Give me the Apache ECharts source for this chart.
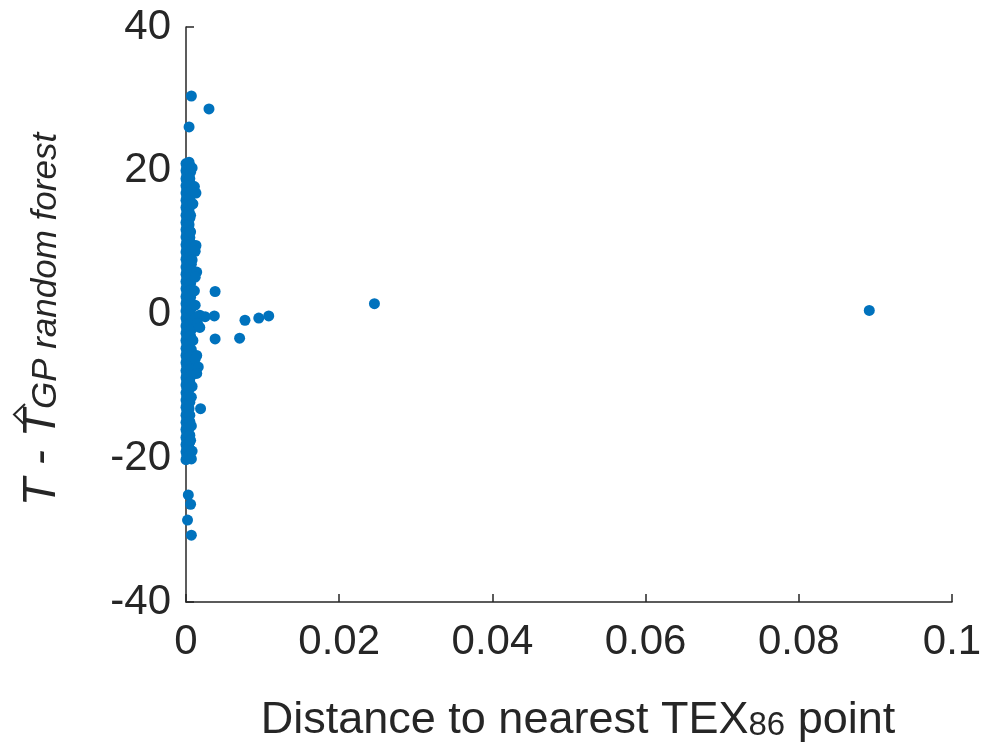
<!DOCTYPE html>
<html>
<head>
<meta charset="utf-8">
<script src="https://cdn.jsdelivr.net/npm/echarts@6/dist/echarts.min.js"></script>
<style>html,body{margin:0;padding:0;background:#fff;}#chart{width:986px;height:749px;}</style>
</head>
<body>
<div id="chart"></div>
<script>
// ---- data: [distance to nearest TEX86 point, residual T - T_hat] ----
const innerColumn = [
  [0.0000,21.0],[0.0001,20.5],[0.0000,20.0],[0.0001,19.4],[0.0000,18.9],[0.0001,18.5],[0.0000,17.9],[0.0001,17.4],
  [0.0000,16.9],[0.0001,16.4],[0.0000,15.9],[0.0001,15.4],[0.0000,14.9],[0.0001,14.4],[0.0000,13.8],[0.0001,13.3],
  [0.0000,12.8],[0.0001,12.3],[0.0000,11.8],[0.0001,11.3],[0.0000,10.8],[0.0001,10.2],[0.0000,9.7],[0.0001,9.2],
  [0.0000,8.7],[0.0001,8.2],[0.0000,7.7],[0.0001,7.2],[0.0000,6.6],[0.0001,6.1],[0.0000,5.6],[0.0001,5.1],
  [0.0000,4.6],[0.0001,4.1],[0.0000,3.6],[0.0001,3.0],[0.0000,2.5],[0.0001,2.0],[0.0000,1.5],[0.0001,1.0],
  [0.0000,0.5],[0.0001,0.0],[0.0000,-0.5],[0.0001,-1.0],[0.0000,-1.6],[0.0001,-2.1],[0.0000,-2.6],[0.0001,-3.1],
  [0.0000,-3.6],[0.0001,-4.1],[0.0000,-4.7],[0.0001,-5.2],[0.0000,-5.7],[0.0001,-6.2],[0.0000,-6.7],[0.0001,-7.2],
  [0.0000,-7.8],[0.0001,-8.3],[0.0000,-8.8],[0.0001,-9.3],[0.0000,-9.8],[0.0001,-10.3],[0.0000,-10.9],[0.0001,-11.4],
  [0.0000,-11.9],[0.0001,-12.4],[0.0000,-12.9],[0.0001,-13.4],[0.0000,-14.0],[0.0001,-14.5],[0.0000,-15.0],[0.0001,-15.5],
  [0.0000,-16.0],[0.0001,-16.5],[0.0000,-17.1],[0.0001,-17.6],[0.0000,-18.1],[0.0001,-18.6],[0.0000,-19.1],[0.0001,-19.6],
  [0.0000,-20.2]
];
const middleColumn = [
  [0.0003,20.2],[0.0003,18.6],[0.0002,17.0],[0.0003,15.5],[0.0002,13.9],[0.0003,12.4],[0.0002,10.9],[0.0003,9.4],
  [0.0002,7.8],[0.0003,6.3],[0.0002,4.8],[0.0003,3.2],[0.0002,1.7],[0.0003,0.2],[0.0002,-1.4],[0.0003,-2.9],
  [0.0002,-4.4],[0.0003,-6.0],[0.0002,-7.5],[0.0003,-9.0],[0.0002,-10.6],[0.0003,-12.1],[0.0002,-13.6],[0.0003,-15.2],
  [0.0002,-16.7],[0.0003,-18.2],[0.0002,-19.8]
];
const outerColumn = [
  [0.0005,20.7],[0.0006,19.8],[0.0005,18.9],[0.0007,18.0],[0.0006,17.1],[0.0005,16.2],[0.0006,15.2],[0.0004,14.3],
  [0.0005,13.4],[0.0004,12.5],[0.0005,11.6],[0.0005,10.7],[0.0007,9.8],[0.0006,8.8],[0.0005,7.9],[0.0007,7.0],
  [0.0006,6.1],[0.0007,5.2],[0.0006,4.3],[0.0007,3.4],[0.0006,2.4],[0.0007,1.5],[0.0006,0.6],[0.0007,-0.3],
  [0.0006,-1.2],[0.0007,-2.1],[0.0006,-3.0],[0.0005,-4.0],[0.0007,-4.9],[0.0006,-5.8],[0.0007,-6.7],[0.0006,-7.6],
  [0.0007,-8.5],[0.0005,-9.4],[0.0004,-10.4],[0.0004,-11.3],[0.0005,-12.2],[0.0004,-13.1],[0.0005,-14.0],[0.0005,-14.9],
  [0.0004,-15.8],[0.0005,-16.8],[0.0005,-17.7],[0.0004,-18.6],[0.0005,-19.5]
];
const edgePoints = [
  [0.0004,21.2],[0.0008,20.4],[0.0011,17.8],[0.0013,16.9],[0.0009,15.4],[0.0006,13.8],[0.0006,11.5],
  [0.0013,9.6],[0.0012,8.8],[0.0008,7.6],[0.0014,5.9],[0.0012,5.2],[0.0011,3.3],[0.0012,1.3],
  [0.0018,-0.1],[0.0025,-0.3],[0.0013,-0.4],[0.0015,-1.2],[0.0018,-1.8],[0.0009,-3.6],
  [0.0014,-5.7],[0.0012,-6.2],[0.0016,-7.3],[0.0014,-8.2],[0.0008,-10.0],[0.0007,-11.5],
  [0.0019,-13.1],[0.0007,-15.5],[0.0006,-17.5],[0.0008,-19.0],[0.0007,-20.1]
];
const outlierPoints = [
  [0.0007,30.4],[0.0030,28.6],[0.0004,26.1],[0.0003,-25.1],[0.0006,-26.4],[0.0002,-28.6],[0.0007,-30.7],
  [0.0038,3.2],[0.0037,-0.2],[0.0038,-3.4],[0.0070,-3.3],[0.0077,-0.8],[0.0095,-0.5],[0.0108,-0.2],
  [0.0246,1.5],[0.0892,0.56]
];
const xTicks = [0, 0.02, 0.04, 0.06, 0.08, 0.1];
const yTicks = [-40, -20, 0, 20, 40];

const ink = '#262626';
const font = 'Liberation Sans, Arial, Helvetica, sans-serif';
const chart = echarts.init(document.getElementById('chart'), null, {renderer: 'canvas'});
chart.setOption({
  animation: false,
  backgroundColor: '#fff',
  grid: {left: 186, right: 34, top: 27, bottom: 147, containLabel: false},
  xAxis: {
    type: 'value', min: xTicks[0], max: xTicks[xTicks.length - 1], interval: 0.02,
    axisLine: {show: true, onZero: false, lineStyle: {color: ink, width: 1.5}},
    axisTick: {show: true, inside: true, length: 8, lineStyle: {color: ink, width: 1.5}},
    splitLine: {show: false},
    axisLabel: {color: ink, fontSize: 42, fontFamily: font, margin: 19},
    name: '{a|Distance to nearest TEX}{s|86}{n| point}',
    nameLocation: 'middle', nameGap: 96,
    nameTextStyle: {
      color: ink, fontFamily: font,
      rich: {
        a: {fontSize: 45, fontFamily: font, color: ink, padding: [0, 0, 11, 18]},
        n: {fontSize: 45, fontFamily: font, color: ink, padding: [0, 0, 11, 0]},
        s: {fontSize: 33, fontFamily: font, color: ink}
      }
    }
  },
  yAxis: {
    type: 'value', min: yTicks[0], max: yTicks[yTicks.length - 1], interval: 20,
    axisLine: {show: true, onZero: false, lineStyle: {color: ink, width: 1.5}},
    axisTick: {show: true, inside: true, length: 8, lineStyle: {color: ink, width: 1.5}},
    splitLine: {show: false},
    axisLabel: {color: ink, fontSize: 42, fontFamily: font, margin: 15},
    name: '{t|T - T}{s|GP random forest}',
    nameLocation: 'middle', nameRotate: 90, nameGap: 112,
    nameTextStyle: {
      color: ink, fontFamily: font,
      rich: {
        t: {fontSize: 46, fontStyle: 'italic', fontFamily: font, color: ink, padding: [0, 0, 9, 0]},
        s: {fontSize: 35, fontStyle: 'italic', fontFamily: font, color: ink, padding: [0, 10, 0, 0]}
      }
    }
  },
  series: [{
    type: 'scatter',
    data: innerColumn.concat(middleColumn, outerColumn, edgePoints, outlierPoints),
    symbol: 'circle', symbolSize: 11,
    itemStyle: {color: '#0072BD', opacity: 1},
    silent: true
  }],
  graphic: [{
    type: 'polyline',
    shape: {points: [[25, 404], [14, 414.5], [25, 425]]},
    style: {stroke: ink, lineWidth: 2, fill: null}
  }]
});
</script>
</body>
</html>
